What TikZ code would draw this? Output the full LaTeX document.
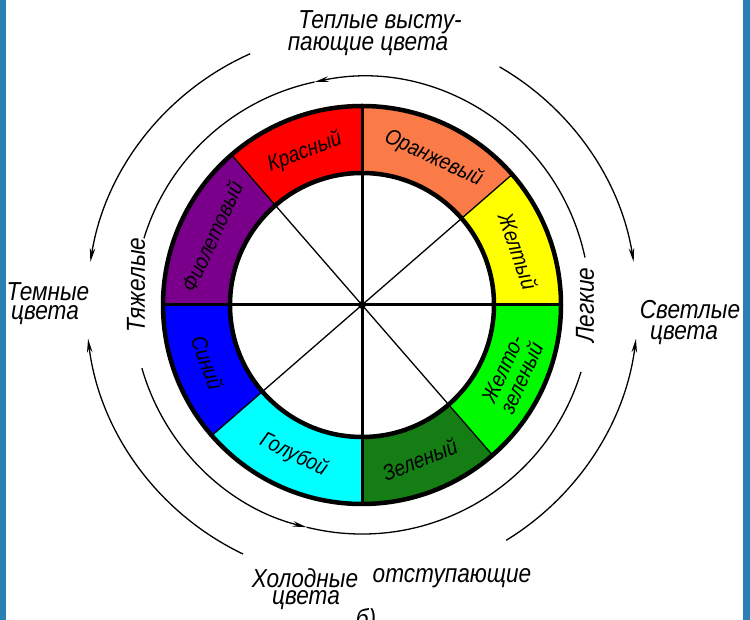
\documentclass[tikz,border=0pt]{standalone}
\usepackage{fontspec}
\setmainfont{Liberation Sans}
\newfontfamily\drawfont[FakeStretch=0.87]{Liberation Sans}
\usetikzlibrary{arrows.meta}
\definecolor{cRed}{RGB}{255,0,0}
\definecolor{cOrange}{RGB}{250,122,72}
\definecolor{cYellow}{RGB}{255,255,0}
\definecolor{cYG}{RGB}{0,250,0}
\definecolor{cGreen}{RGB}{20,125,20}
\definecolor{cCyan}{RGB}{0,255,255}
\definecolor{cBlue}{RGB}{0,0,255}
\definecolor{cViolet}{RGB}{122,0,140}
\definecolor{cFrame}{RGB}{40,128,180}
\tikzset{
  outerlab/.style={font=\drawfont\fontsize{26}{26}\selectfont\itshape, inner sep=0pt},
  seglab/.style={font=\drawfont\fontsize{22}{21}\selectfont\itshape, inner sep=0pt, align=center},
  arcline/.style={line width=1.3pt, black},
  arrowarc/.style={arcline, -{Stealth[length=14pt,width=5.5pt]}},
  thickdiv/.style={line width=3pt, black},
  thindiv/.style={line width=1.3pt, black},
  ringline/.style={line width=4.5pt, black},
}
\newcommand{\segfill}[3]{%
  \fill[#3] (#1:132) arc[start angle=#1, end angle=#2, radius=132] -- (#2:199) arc[start angle=#2, end angle=#1, radius=199] -- cycle;}
\begin{document}
\begin{tikzpicture}[x=1pt,y=1pt]
\useasboundingbox (0,0) rectangle (750,620);
\fill[white] (0,0) rectangle (750,620);
\fill[cFrame] (0,0) rectangle (6,620);
\fill[cFrame] (743,0) rectangle (750,620);

\begin{scope}[shift={(362,315)}]
  % coloured segments
  \segfill{90}{131}{cRed}
  \segfill{131}{180}{cViolet}
  \segfill{180}{221}{cBlue}
  \segfill{221}{270}{cCyan}
  \segfill{270}{311}{cGreen}
  \segfill{311}{360}{cYG}
  \segfill{0}{41}{cYellow}
  \segfill{41}{90}{cOrange}
  % dividing lines
  \draw[thindiv] (41:199) -- (221:199);
  \draw[thindiv] (131:199) -- (311:199);
  \draw[thickdiv] (90:199) -- (270:199);
  \draw[thickdiv] (0:199) -- (180:199);
  \draw[ringline] (0,0) circle[radius=199];
  \draw[ringline] (0,0) circle[radius=132];
  \fill[black] (0,0) circle[radius=4];
  % segment labels
  \node[seglab, rotate=20.5] (lred) at (110.5:163) {Красный};
  \node[seglab, rotate=-25] (lorange) at (64:163) {Оранжевый};
  \node[seglab, rotate=-71] (lyellow) at (19:165) {Желтый};
  \node[seglab, rotate=65.5] (lyg) at (335.5:165) {Желто-\\зеленый};
  \node[seglab, rotate=22] (lgreen) at (290.5:165) {Зеленый};
  \node[seglab, rotate=-26] (lcyan) at (245.5:165) {Голубой};
  \node[seglab, rotate=-70] (lblue) at (200.5:165) {Синий};
  \node[seglab, rotate=65.5] (lviolet) at (155.5:165) {Фиолетовый};
  % outer arcs
  \draw[arrowarc] (114:275) arc[start angle=114, end angle=171, radius=275];
  \draw[arrowarc] (60:275) arc[start angle=60, end angle=9, radius=275];
  \draw[arrowarc] (244.5:276) arc[start angle=244.5, end angle=187, radius=276];
  \draw[arrowarc] (301.5:276) arc[start angle=301.5, end angle=353, radius=276];
  % inner arcs
  \draw[arrowarc] (12:228) arc[start angle=12, end angle=102, radius=228];
  \draw[arcline] (102:228) arc[start angle=102, end angle=163, radius=228];
  \draw[arrowarc] (196:229) arc[start angle=196, end angle=256, radius=229];
  \draw[arcline] (256:229) arc[start angle=256, end angle=343, radius=229];
\end{scope}

% outer labels
\node[outerlab] (t1) at (380,598) {Теплые высту-};
\node[outerlab] (t2) at (368,574) {пающие цвета};
\node[outerlab] (d1) at (48,328) {Темные};
\node[outerlab] (d2) at (45,305) {цвета};
\node[outerlab] (s1) at (690,310) {Светлые};
\node[outerlab] (s2) at (684,285) {цвета};
\node[outerlab, rotate=90] (heavy) at (136,335) {Тяжелые};
\node[outerlab, rotate=90] (light) at (585,315) {Легкие};
\node[outerlab] (c1a) at (305,42) {Холодные};
\node[outerlab] (c1b) at (452,42) {отступающие};
\node[outerlab] (c2) at (306,20) {цвета};
\node[outerlab, anchor=north] (fig) at (366,12) {б)};
\end{tikzpicture}
\end{document}
